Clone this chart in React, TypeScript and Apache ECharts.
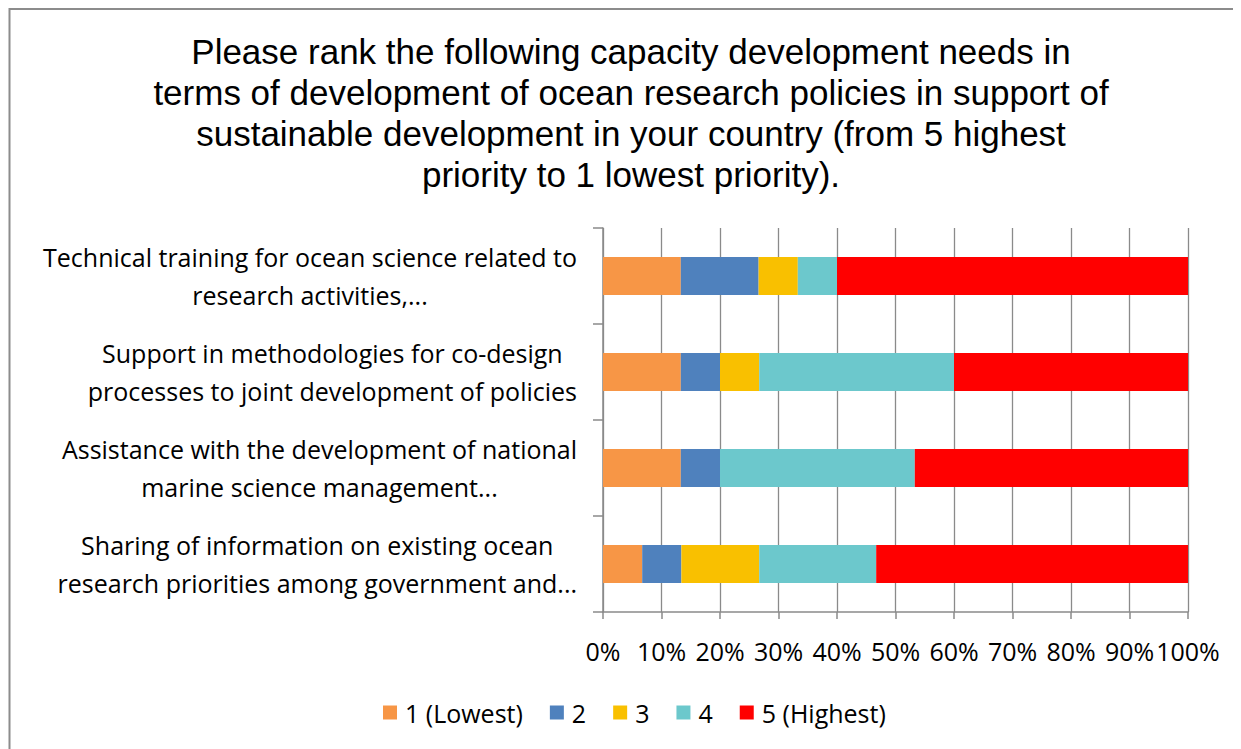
import React, { useEffect, useRef } from "react";
import * as echarts from "echarts";

// Survey question shown as the chart heading
const titleLines = [
  "Please rank the following capacity development needs in",
  "terms of development of ocean research policies in support of",
  "sustainable development in your country (from 5 highest",
  "priority to 1 lowest priority).",
];

// Capacity development needs, listed top to bottom
const categories = [
  "Technical training for ocean science related to\nresearch activities,...",
  "Support in methodologies for co-design\nprocesses to joint development of policies",
  "Assistance with the development of national\nmarine science management...",
  "Sharing of information on existing ocean\nresearch priorities among government and...",
];

// Share of respondents (%) giving each priority rank
const rankNames = ["1 (Lowest)", "2", "3", "4", "5 (Highest)"];
const rank1 = [13.3, 13.3, 13.3, 6.7];
const rank2 = [13.3, 6.7, 6.7, 6.7];
const rank3 = [6.7, 6.7, 0, 13.3];
const rank4 = [6.7, 33.3, 33.3, 20.0];
const rank5 = [60.0, 40.0, 46.7, 53.3];
const rankValues = [rank1, rank2, rank3, rank4, rank5];
const rankColors = ["#F79646", "#4F81BD", "#F9C000", "#6CC8CC", "#FF0000"];

const xTicks = { min: 0, max: 100, interval: 10 };

const LABEL_FONT = "'Open Sans', Lato, sans-serif";
const AXIS_GRAY = "#8a8a8a";

export default function App() {
  const ref = useRef<HTMLDivElement>(null);

  useEffect(() => {
    if (!ref.current) return;
    // the chart runs past the page's right and bottom edges; keep scrollbars away
    document.documentElement.style.overflow = "hidden";
    document.body.style.overflow = "hidden";

    const chart = echarts.init(ref.current, undefined, { renderer: "svg" });

    chart.setOption({
      animation: false,
      backgroundColor: "#ffffff",
      title: {
        text: titleLines.join("\n"),
        left: 623,
        top: 23,
        textAlign: "center",
        padding: 0,
        textStyle: {
          fontFamily: "'Liberation Sans', Arial, sans-serif",
          fontSize: 35,
          lineHeight: 41,
          fontWeight: "normal",
          color: "#000000",
        },
      },
      legend: {
        data: rankNames,
        left: 375,
        top: 692,
        padding: 0,
        itemWidth: 14,
        itemHeight: 14,
        itemGap: 27,
        icon: "rect",
        textStyle: {
          fontFamily: LABEL_FONT,
          fontSize: 25,
          lineHeight: 24,
          color: "#000000",
          padding: [0, 0, 0, 3],
        },
      },
      // chart-area frame
      graphic: [
        {
          type: "rect",
          silent: true,
          shape: { x: 1.5, y: 1, width: 1300, height: 800 },
          style: { fill: "none", stroke: "#8c8c8c", lineWidth: 2 },
          z: -1,
        },
      ],
      grid: {
        left: 595,
        top: 220,
        right: 53,
        bottom: 137,
        containLabel: false,
      },
      xAxis: {
        type: "value",
        min: xTicks.min,
        max: xTicks.max,
        interval: xTicks.interval,
        axisLine: { show: true, lineStyle: { color: AXIS_GRAY, width: 1.5 } },
        axisTick: { show: true, length: 7, lineStyle: { color: AXIS_GRAY, width: 1.5 } },
        splitLine: { show: true, lineStyle: { color: AXIS_GRAY, width: 1.3 } },
        axisLabel: {
          formatter: "{value}%",
          margin: 26,
          fontFamily: LABEL_FONT,
          fontSize: 25,
          color: "#000000",
        },
      },
      yAxis: {
        type: "category",
        data: categories,
        inverse: true,
        axisLine: { show: true, lineStyle: { color: AXIS_GRAY, width: 1.5 } },
        axisTick: {
          show: true,
          length: 10,
          alignWithLabel: false,
          lineStyle: { color: AXIS_GRAY, width: 1.5 },
        },
        splitLine: { show: false },
        axisLabel: {
          margin: 26,
          align: "right",
          formatter: (value: string) =>
            value
              .split("\n")
              .map((line) => `{c|${line}}`)
              .join("\n"),
          rich: {
            c: {
              align: "center",
              fontFamily: LABEL_FONT,
              fontSize: 25,
              lineHeight: 38,
              color: "#000000",
            },
          },
        },
      },
      series: rankNames.map((name, i) => ({
        name,
        type: "bar",
        stack: "total",
        barWidth: 38,
        data: rankValues[i],
        itemStyle: { color: rankColors[i] },
        emphasis: { disabled: true },
      })),
    });

    return () => chart.dispose();
  }, []);

  return <div ref={ref} style={{ width: 1233, height: 741 }} />;
}
